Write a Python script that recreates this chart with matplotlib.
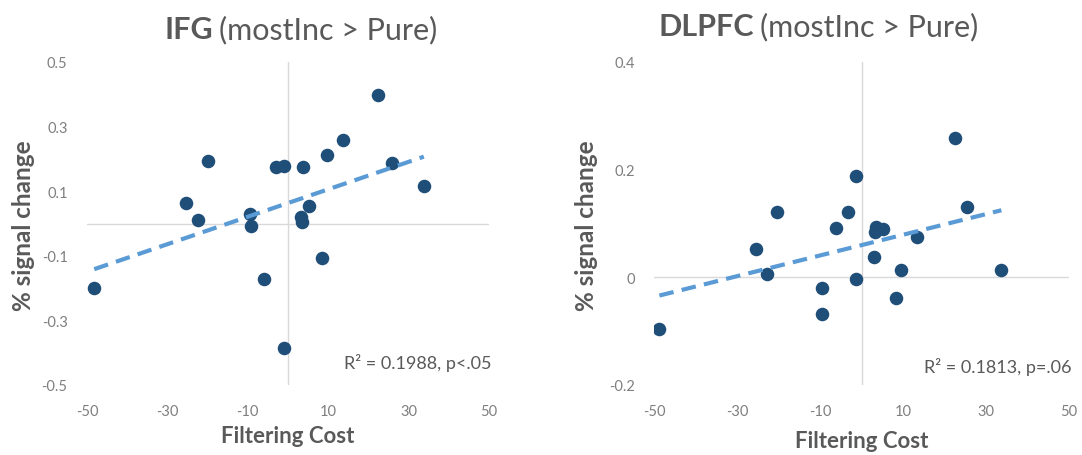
"""
Two scatter panels: % signal change vs filtering cost, with linear trendlines.
"""
import numpy as np
import matplotlib
matplotlib.use("Agg")
import matplotlib.pyplot as plt

plt.rcParams["font.family"] = ["Lato", "DejaVu Sans"]
plt.rcParams["axes.unicode_minus"] = False

GRAY = "#595959"
TICK_GRAY = "#7f7f7f"
DOT = "#1f4e79"
TREND = "#5b9bd5"
ZERO_LINE = "#d9d9d9"

# IFG panel
ifg_cost = [-48.2, -25.3, -22.3, -20.0, -9.4, -9.2, -6.0, -3.1, -1.1, -1.1,
            3.2, 3.4, 3.8, 5.2, 8.4, 9.8, 13.7, 22.5, 25.8, 33.8]
ifg_signal = [-0.201, 0.063, 0.012, 0.192, 0.028, -0.008, -0.173, 0.176, 0.179, -0.386,
              0.021, 0.004, 0.176, 0.054, -0.107, 0.211, 0.257, 0.399, 0.187, 0.115]

# DLPFC panel
dlpfc_cost = [-48.7, -25.5, -22.7, -20.3, -9.5, -9.6, -6.2, -3.2, -1.3, -1.3,
              2.9, 3.4, 3.2, 5.1, 8.3, 9.5, 13.3, 22.6, 25.4, 33.7]
dlpfc_signal = [-0.096, 0.053, 0.007, 0.122, -0.019, -0.069, 0.091, 0.122, 0.188, -0.004,
                0.038, 0.094, 0.085, 0.090, -0.038, 0.013, 0.075, 0.259, 0.131, 0.014]

x_ticks = [-50, -30, -10, 10, 30, 50]
ifg_yticks = [-0.5, -0.3, -0.1, 0.1, 0.3, 0.5]
dlpfc_yticks = [-0.2, 0, 0.2, 0.4]

W, H = 1082, 456


def px_rect(x0, y0, x1, y1):
    return [x0 / W, 1 - y1 / H, (x1 - x0) / W, (y1 - y0) / H]


def draw_panel(fig, rect, cost, signal, yticks, ylim, stat_text, stat_y, title_bold, split_x,
               title_y, ylabel_x, xlabel_y):
    ax = fig.add_axes(px_rect(*rect))
    ax.set_xlim(-50, 50)
    ax.set_ylim(*ylim)
    for s in ax.spines.values():
        s.set_visible(False)
    ax.axhline(0, color=ZERO_LINE, lw=1, zorder=1)
    ax.axvline(0, color=ZERO_LINE, lw=1, zorder=1)

    ax.scatter(cost, signal, s=95, color=DOT, zorder=3, linewidths=0)

    slope, icpt = np.polyfit(cost, signal, 1)
    xs = np.array([min(cost), max(cost)])
    ax.plot(xs, slope * xs + icpt, color=TREND, lw=3, ls=(0, (3.5, 2)),
            zorder=4, solid_capstyle="butt")

    ax.set_xticks(x_ticks)
    ax.set_yticks(yticks)
    ax.set_yticklabels([f"{t:g}" for t in yticks])
    ax.tick_params(length=0, colors=TICK_GRAY, labelsize=10.5)
    ax.tick_params(axis="x", pad=14)
    ax.tick_params(axis="y", pad=14)

    ax.text(1.005, stat_y, stat_text, transform=ax.transAxes, ha="right", va="center",
            fontsize=13, color=GRAY)

    # title: bold region name + normal contrast text
    ty = 1 - title_y / H
    fig.text(split_x / W, ty, title_bold, ha="right", va="center", fontsize=22,
             fontweight="bold", color=GRAY)
    fig.text((split_x + 6) / W, ty, "(mostInc > Pure)", ha="left", va="center",
             fontsize=22, color=GRAY)

    fig.text(ylabel_x / W, 1 - 226 / H, "% signal change", rotation=90, ha="center",
             va="center", fontsize=17.5, fontweight="bold", color=GRAY)
    cx = (rect[0] + rect[2]) / 2
    fig.text(cx / W, 1 - xlabel_y / H, "Filtering Cost", ha="center", va="center",
             fontsize=16, fontweight="bold", color=GRAY)
    return ax


fig = plt.figure(figsize=(W / 100, H / 100), dpi=100)

draw_panel(fig, (87, 63, 489, 386), ifg_cost, ifg_signal, ifg_yticks, (-0.5, 0.5),
           "R² = 0.1988, p<.05", 0.07, "IFG", 213, 30, 24, 437)
draw_panel(fig, (654, 63, 1069, 386), dlpfc_cost, dlpfc_signal, dlpfc_yticks, (-0.2, 0.4),
           "R² = 0.1813, p=.06", 0.06, "DLPFC", 754, 27, 587, 442)

fig.savefig("out.png", dpi=100)
